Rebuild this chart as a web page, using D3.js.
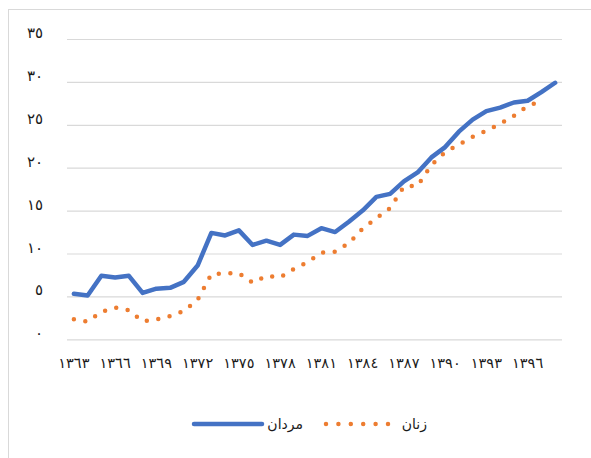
<!DOCTYPE html>
<html>
<head>
<meta charset="utf-8">
<script src="https://cdn.jsdelivr.net/npm/d3@7/dist/d3.min.js"></script>
<style>
  html, body { margin: 0; padding: 0; background: #fff; }
  svg { display: block; }
  text { font-family: "DejaVu Sans", sans-serif; fill: #1a1a1a; }
</style>
</head>
<body>
<svg id="chart" width="591" height="458"></svg>
<script>
// ---- data ----
const years = d3.range(1363, 1399); // 1363..1398
const menValues = [5.3, 5.1, 7.4, 7.2, 7.4, 5.4, 5.9, 6.0, 6.7, 8.6, 12.4, 12.1, 12.7, 11.0, 11.5, 11.0, 12.2, 12.05,
  12.95, 12.5, 13.7, 15.0, 16.6, 16.95, 18.4, 19.45, 21.2, 22.4, 24.2, 25.6, 26.6, 27.0, 27.6, 27.8, 28.8, 29.9];
const womenValues = [2.33, 2.05, 3.2, 3.7, 3.4, 2.1, 2.3, 2.7, 3.3, 4.6, 7.6, 7.7, 7.7, 6.6, 7.4, 7.2, 8.2, 9.0,
  10.1, 10.2, 11.2, 12.9, 14.1, 15.3, 17.8, 17.9, 20.3, 21.8, 22.7, 23.6, 24.3, 25.1, 26.05, 27.2, 27.75];
const yTicks = [0, 5, 10, 15, 20, 25, 30, 35];
const xTickYears = d3.range(1363, 1399, 3);
const seriesNames = { men: "مردان", women: "زنان" };

(function () {
// ---- helpers ----
const arabicDigits = "٠١٢٣٤٥٦٧٨٩";
const toArabic = n => String(n).replace(/[0-9]/g, d => arabicDigits[+d]);

const svg = d3.select("#chart");
const plotLeft = 67, plotRight = 562, plotTop = 39, plotBottom = 339.3;

// outer chart border
svg.append("rect").attr("x", 8.5).attr("y", 9.5).attr("width", 700).attr("height", 600)
  .attr("fill", "none").attr("stroke", "#d9d9d9").attr("stroke-width", 1);

const x = d3.scaleBand().domain(years).range([plotLeft, plotRight]);
const y = d3.scaleLinear().domain([0, 35]).range([plotBottom, plotTop]);
const cx = d => x(d) + x.bandwidth() / 2;

// y axis with gridlines
const yAxis = svg.append("g").attr("transform", `translate(${plotLeft},0)`)
  .call(d3.axisLeft(y).tickValues(yTicks).tickSize(-(plotRight - plotLeft)).tickPadding(24).tickFormat(toArabic));
yAxis.select(".domain").remove();
yAxis.selectAll(".tick line").attr("stroke", "#d9d9d9").attr("stroke-width", 1.2);
yAxis.selectAll(".tick text").attr("dy", "-1.5px").style("font-size", "15px").attr("fill", "#1a1a1a");

// x axis
const xAxis = svg.append("g").attr("transform", `translate(0,${plotBottom})`)
  .call(d3.axisBottom(x).tickValues(xTickYears).tickSize(0).tickFormat(toArabic));
xAxis.select(".domain").remove();
xAxis.selectAll(".tick text").attr("y", 29).attr("dy", 0).style("font-size", "14.5px").attr("fill", "#1a1a1a");

// lines
const line = d3.line().x((d, i) => cx(years[i])).y(d => y(d));
svg.append("path").datum(womenValues).attr("d", line)
  .attr("fill", "none").attr("stroke", "#ED7D31").attr("stroke-width", 4.5)
  .attr("stroke-linecap", "round").attr("stroke-dasharray", "0 11.6");
svg.append("path").datum(menValues).attr("d", line)
  .attr("fill", "none").attr("stroke", "#4472C4").attr("stroke-width", 4.5)
  .attr("stroke-linejoin", "round").attr("stroke-linecap", "round");

// legend
const lg = svg.append("g");
lg.append("line").attr("x1", 194).attr("x2", 262).attr("y1", 424).attr("y2", 424)
  .attr("stroke", "#4472C4").attr("stroke-width", 4.5).attr("stroke-linecap", "round");
lg.append("text").attr("x", 303).attr("y", 429).attr("text-anchor", "end")
  .style("font-size", "14px").text(seriesNames.men);
lg.append("line").attr("x1", 326).attr("x2", 390).attr("y1", 424).attr("y2", 424)
  .attr("stroke", "#ED7D31").attr("stroke-width", 4.5).attr("stroke-linecap", "round")
  .attr("stroke-dasharray", "0 12.4");
lg.append("text").attr("x", 427).attr("y", 429).attr("text-anchor", "end")
  .style("font-size", "14px").text(seriesNames.women);
})();
</script>
</body>
</html>
